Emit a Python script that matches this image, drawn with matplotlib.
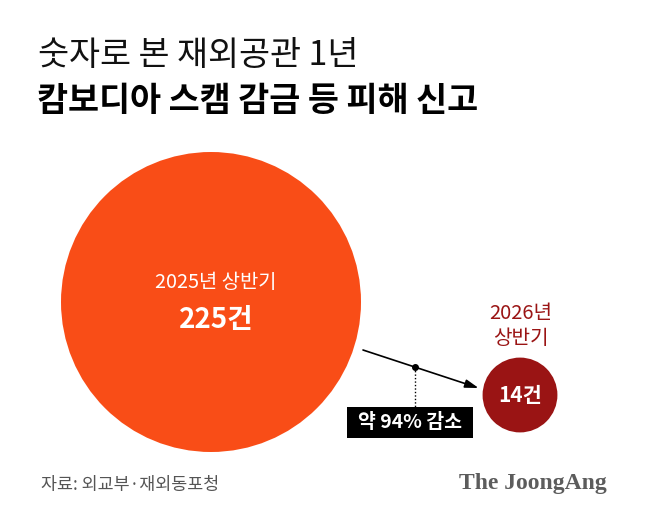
import numpy as np
import matplotlib
matplotlib.use("Agg")
import matplotlib.pyplot as plt
from matplotlib.patches import Circle, Rectangle

plt.rcParams['font.family'] = ['Noto Sans CJK KR', 'DejaVu Sans']

# data
periods = ["2025년 상반기", "2026년\n상반기"]
counts = [225, 14]
count_labels = ["225건", "14건"]
change_label = "약 94% 감소"
title_1 = "숫자로 본 재외공관 1년"
title_2 = "캄보디아 스캠 감금 등 피해 신고"
source = "자료: 외교부·재외동포청"
brand = "The JoongAng"

colors = ["#F94D17", "#9A1414"]

W, H = 650, 523
fig = plt.figure(figsize=(W / 100, H / 100), dpi=100)
ax = fig.add_axes([0, 0, 1, 1])
ax.set_xlim(0, W)
ax.set_ylim(H, 0)
ax.set_aspect("equal")
ax.axis("off")

# circle areas proportional to counts
big_r = 150
radii = [big_r * np.sqrt(c / counts[0]) for c in counts]
centers = [(211, 302), (520, 395)]

for (cx, cy), r, col in zip(centers, radii, colors):
    ax.add_patch(Circle((cx, cy), r, facecolor=col, edgecolor="none"))

# labels in big circle
ax.text(centers[0][0] + 5, 283, periods[0], color="white", fontsize=14.3,
        ha="center", va="center")
ax.text(centers[0][0] + 5, 320, count_labels[0], color="white", fontsize=20,
        fontweight="bold", ha="center", va="center")

# small circle
ax.text(centers[1][0] + 1, 326, periods[1], color=colors[1], fontsize=14.5,
        ha="center", va="center", linespacing=1.2)
ax.text(centers[1][0], 396, count_labels[1], color="white", fontsize=15,
        fontweight="bold", ha="center", va="center")

# arrow between circles
x0, y0 = 363, 350
x1, y1 = centers[1][0] - radii[1] - 4, 388
ax.annotate("", xy=(x1, y1), xytext=(x0, y0),
            arrowprops=dict(arrowstyle="-|>,head_length=0.8,head_width=0.25",
                            color="black", lw=1.2, shrinkA=0, shrinkB=0))
mx = 415
my = y0 + (y1 - y0) * (mx - x0) / (x1 - x0)
ax.plot([mx], [my], "o", color="black", markersize=4)
ax.plot([mx, mx], [my, 407], color="black", lw=1, linestyle=(0, (1, 1.5)))

ax.add_patch(Rectangle((347, 407), 126, 31, facecolor="black", edgecolor="none"))
ax.text(410, 422.5, change_label, color="white", fontsize=14, fontweight="bold",
        ha="center", va="center")

# titles
ax.text(38, 56, title_1, fontsize=24.3, ha="left", va="center", color="#111111")
ax.text(37, 101, title_2, fontsize=24.3, fontweight="bold", ha="left",
        va="center", color="black")

# footer
ax.text(41, 485, source, fontsize=12.5, ha="left", va="center", color="#555555")
ax.text(607, 484, brand, fontsize=17, fontweight="bold", ha="right",
        va="center", color="#5c5c5c", family="Liberation Serif")

fig.savefig("out.png", dpi=100, facecolor="white")
